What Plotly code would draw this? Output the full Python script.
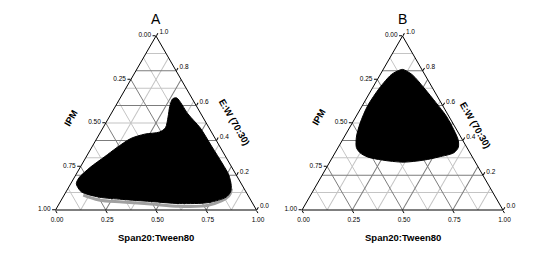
import plotly.graph_objects as go

# ---------------- data (E:W = top vertex, IPM = bottom-left, Span20:Tween80 = bottom-right)
A_EW   = [0.644, 0.552, 0.472, 0.368, 0.264, 0.202, 0.141, 0.104, 0.074, 0.043, 0.037, 0.049, 0.061, 0.074,
          0.104, 0.135, 0.153, 0.184, 0.245, 0.307, 0.356, 0.411, 0.436, 0.448, 0.472, 0.534, 0.595, 0.638, 0.644]
A_IPM  = [0.075, 0.065, 0.044, 0.040, 0.036, 0.037, 0.055, 0.077, 0.114, 0.215, 0.365, 0.502, 0.638, 0.747,
          0.819, 0.824, 0.820, 0.792, 0.705, 0.601, 0.520, 0.420, 0.338, 0.259, 0.217, 0.173, 0.134, 0.099, 0.075]
A_SPAN = [0.281, 0.383, 0.484, 0.592, 0.700, 0.761, 0.804, 0.819, 0.812, 0.742, 0.598, 0.449, 0.301, 0.179,
          0.077, 0.041, 0.027, 0.024, 0.050, 0.092, 0.124, 0.169, 0.226, 0.293, 0.311, 0.293, 0.271, 0.263, 0.281]

A_EDGE_EW   = [0.123, 0.080, 0.028, 0.021, 0.034, 0.046, 0.058, 0.086]
A_EDGE_IPM  = [0.063, 0.098, 0.223, 0.374, 0.509, 0.645, 0.755, 0.819]
A_EDGE_SPAN = [0.814, 0.822, 0.749, 0.605, 0.457, 0.309, 0.187, 0.095]

B_EW   = [0.808, 0.778, 0.701, 0.617, 0.539, 0.461, 0.401, 0.359, 0.329, 0.305, 0.287, 0.275, 0.287, 0.305,
          0.329, 0.359, 0.419, 0.497, 0.599, 0.701, 0.778, 0.802, 0.808]
B_IPM  = [0.095, 0.063, 0.042, 0.025, 0.012, 0.014, 0.022, 0.043, 0.080, 0.166, 0.249, 0.359, 0.457, 0.522,
          0.547, 0.550, 0.520, 0.463, 0.374, 0.264, 0.167, 0.118, 0.095]
B_SPAN = [0.097, 0.159, 0.257, 0.358, 0.449, 0.525, 0.577, 0.598, 0.591, 0.529, 0.464, 0.366, 0.256, 0.173,
          0.124, 0.091, 0.061, 0.040, 0.027, 0.035, 0.055, 0.080, 0.097]

IPM_TICKS  = [0.00, 0.25, 0.50, 0.75, 1.00]
SPAN_TICKS = [0.00, 0.25, 0.50, 0.75, 1.00]
EW_TICKS   = [0.0, 0.2, 0.4, 0.6, 0.8, 1.0]

PANELS = ["A", "B"]
LEFT_TITLE, RIGHT_TITLE, BOTTOM_TITLE = "IPM", "E:W (70:30)", "Span20:Tween80"

# ---------------- layout helpers
W, H = 535, 253
FONT = "Liberation Sans, Arial, sans-serif"
tri_top, tri_base = 36, 210
centers = [156, 402.5]
half_w = 100.5

LIGHT_A = [0.1, 0.3, 0.5, 0.7, 0.9]
LIGHT_BC = [0.125, 0.375, 0.625, 0.875]
DARK_A = [0.2, 0.4, 0.6, 0.8]
DARK_BC = [0.25, 0.5, 0.75]
LIGHT, DARK = "#c4c4c4", "#7c7c7c"


def grid_axis(vals, color, show=True):
    return dict(tickmode="array", tickvals=vals, showticklabels=False, ticks="",
                showgrid=show, gridcolor=color, gridwidth=1, showline=False, title=dict(text=""))


def label_axis(vals, text, grid=False):
    return dict(tickmode="array", tickvals=vals, ticktext=text, ticks="outside", ticklen=3,
                tickwidth=1, tickcolor="black", showgrid=grid, gridcolor=DARK, gridwidth=1,
                showline=True, linecolor="black", linewidth=1, layer="above traces",
                tickfont=dict(family=FONT, size=6.5, color="black"), title=dict(text=""))


fig = go.Figure()
layout = dict(width=W, height=H, margin=dict(l=0, r=0, t=0, b=0), paper_bgcolor="white",
              showlegend=False, annotations=[])


def ann(text, x, y, size, angle=0, bold=False):
    layout["annotations"].append(dict(
        text=f"<b>{text}</b>" if bold else text, x=x / W, y=1 - y / H, xref="paper", yref="paper",
        showarrow=False, textangle=angle, xanchor="center", yanchor="middle",
        font=dict(family=FONT, size=size, color="black")))


for i, name in enumerate(PANELS):
    cx = centers[i]
    dom = dict(x=[(cx - half_w) / W, (cx + half_w) / W], y=[(H - tri_base) / H, (H - tri_top) / H])
    ids = ["ternary" if 3 * i + k == 0 else f"ternary{3 * i + k + 1}" for k in range(3)]
    # light (minor) grid
    layout[ids[0]] = dict(domain=dom, sum=1, bgcolor="white",
                          aaxis=grid_axis(LIGHT_A, LIGHT),
                          baxis=grid_axis(LIGHT_BC, LIGHT),
                          caxis=grid_axis(LIGHT_BC, LIGHT))
    # dark (major) grid
    layout[ids[1]] = dict(domain=dom, sum=1, bgcolor="rgba(0,0,0,0)",
                          aaxis=grid_axis(DARK_A, DARK),
                          baxis=grid_axis(DARK_BC, DARK, show=False),
                          caxis=grid_axis(DARK_BC, DARK))
    # labelled axes + data
    layout[ids[2]] = dict(domain=dom, sum=1, bgcolor="rgba(0,0,0,0)",
                          aaxis=label_axis([1 - v for v in IPM_TICKS], [f"{v:.2f}" for v in IPM_TICKS]),
                          baxis=label_axis([1 - v for v in SPAN_TICKS], [f"{v:.2f}" for v in SPAN_TICKS], grid=True),
                          caxis=label_axis([1 - v for v in EW_TICKS], [f"{v:.1f}" for v in EW_TICKS]))

    if name == "A":
        ea, eb, ec = A_EW, A_IPM, A_SPAN
    else:
        ea, eb, ec = B_EW, B_IPM, B_SPAN

    # the grid subplots need a trace of their own to be drawn (nothing visible is drawn here)
    for sub in ids[:2]:
        fig.add_trace(go.Scatterternary(a=ea, b=eb, c=ec, mode="none", subplot=sub, hoverinfo="skip"))

    if name == "A":
        fig.add_trace(go.Scatterternary(a=A_EDGE_EW, b=A_EDGE_IPM, c=A_EDGE_SPAN, mode="lines",
                                        line=dict(color="#a0a0a0", width=3, shape="spline"),
                                        subplot=ids[2], hoverinfo="skip"))
    fig.add_trace(go.Scatterternary(a=ea, b=eb, c=ec, mode="lines", fill="toself", fillcolor="black",
                                    line=dict(color="black", width=1, shape="spline", smoothing=0.8),
                                    subplot=ids[2], hoverinfo="skip"))

    ann(name, cx, 19, 14)
    ann(BOTTOM_TITLE, cx, 237, 9.5, bold=True)
    if name == "A":
        ann(LEFT_TITLE, 70, 118, 9.5, -60, True)
        ann(RIGHT_TITLE, 235, 122, 9.5, 60, True)
    else:
        ann(LEFT_TITLE, 318, 117, 9.5, -60, True)
        ann(RIGHT_TITLE, 476, 125, 9.5, 60, True)

fig.update_layout(**layout)
fig.write_html("out.html")
